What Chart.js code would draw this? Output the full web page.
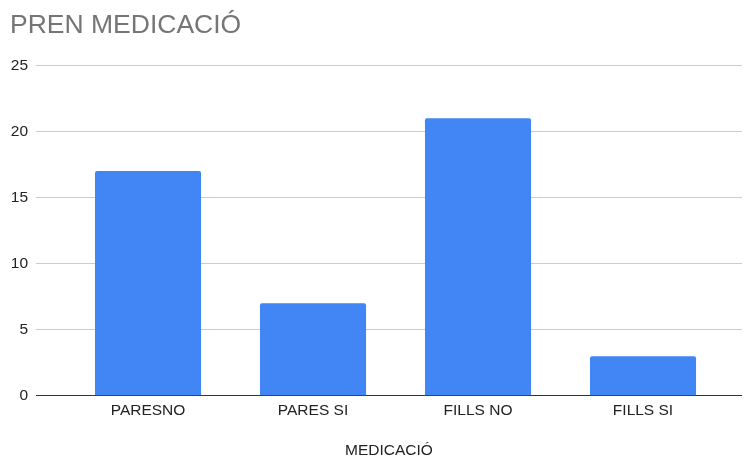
<!DOCTYPE html>
<html>
<head>
<meta charset="utf-8">
<script src="https://cdn.jsdelivr.net/npm/chart.js@4/dist/chart.umd.min.js"></script>
<style>
html,body{margin:0;padding:0;background:#fff;}
#wrap{width:745px;height:458px;position:relative;}
</style>
</head>
<body>
<div id="wrap"><canvas id="c" width="745" height="458"></canvas></div>
<script>
const categories = ["PARESNO", "PARES SI", "FILLS NO", "FILLS SI"];
const values = [17, 7, 21, 3];
const yTicks = [0, 5, 10, 15, 20, 25];
const chartTitle = "PREN MEDICACIÓ";
const xTitle = "MEDICACIÓ";

const points = categories.map((c, i) => ({ x: i, y: values[i] }));
const FONT = "'Liberation Sans', Arial, sans-serif";

new Chart(document.getElementById('c'), {
  type: 'bar',
  data: {
    datasets: [{
      data: points,
      backgroundColor: '#4285f4',
      borderRadius: { topLeft: 2, topRight: 2 },
      borderSkipped: 'bottom',
      categoryPercentage: 1,
      barPercentage: 0.643
    }]
  },
  options: {
    responsive: false,
    animation: false,
    layout: { padding: { left: 10, right: 3, top: 0, bottom: -2 } },
    plugins: {
      legend: { display: false },
      tooltip: { enabled: false },
      title: {
        display: true,
        text: chartTitle,
        align: 'start',
        color: '#757575',
        font: { family: FONT, size: 26.5, weight: 'normal' },
        padding: { top: 10, bottom: 23.5 }
      }
    },
    scales: {
      x: {
        type: 'linear',
        offset: false,
        min: -0.679,
        max: 3.6,
        afterBuildTicks: s => { s.ticks = categories.map((c, i) => ({ value: i })); },
        ticks: {
          autoSkip: false,
          maxRotation: 0,
          color: '#222',
          font: { family: FONT, size: 15.5 },
          padding: 6,
          callback: v => categories[v]
        },
        grid: { display: false, drawTicks: false },
        border: { display: false },
        title: {
          display: true,
          text: xTitle,
          color: '#222',
          font: { family: FONT, size: 15.5 },
          padding: { top: 15, bottom: 0 }
        }
      },
      y: {
        min: 0,
        max: 25,
        afterBuildTicks: s => { s.ticks = yTicks.map(v => ({ value: v })); },
        afterFit: s => { s.width = 26; },
        ticks: {
          color: '#222',
          font: { family: FONT, size: 15.5 },
          padding: 8
        },
        grid: {
          drawTicks: false,
          color: ctx => ctx.tick && ctx.tick.value === 0 ? '#333333' : '#cccccc',
          lineWidth: 1
        },
        border: { display: false }
      }
    }
  }
});
</script>
</body>
</html>
